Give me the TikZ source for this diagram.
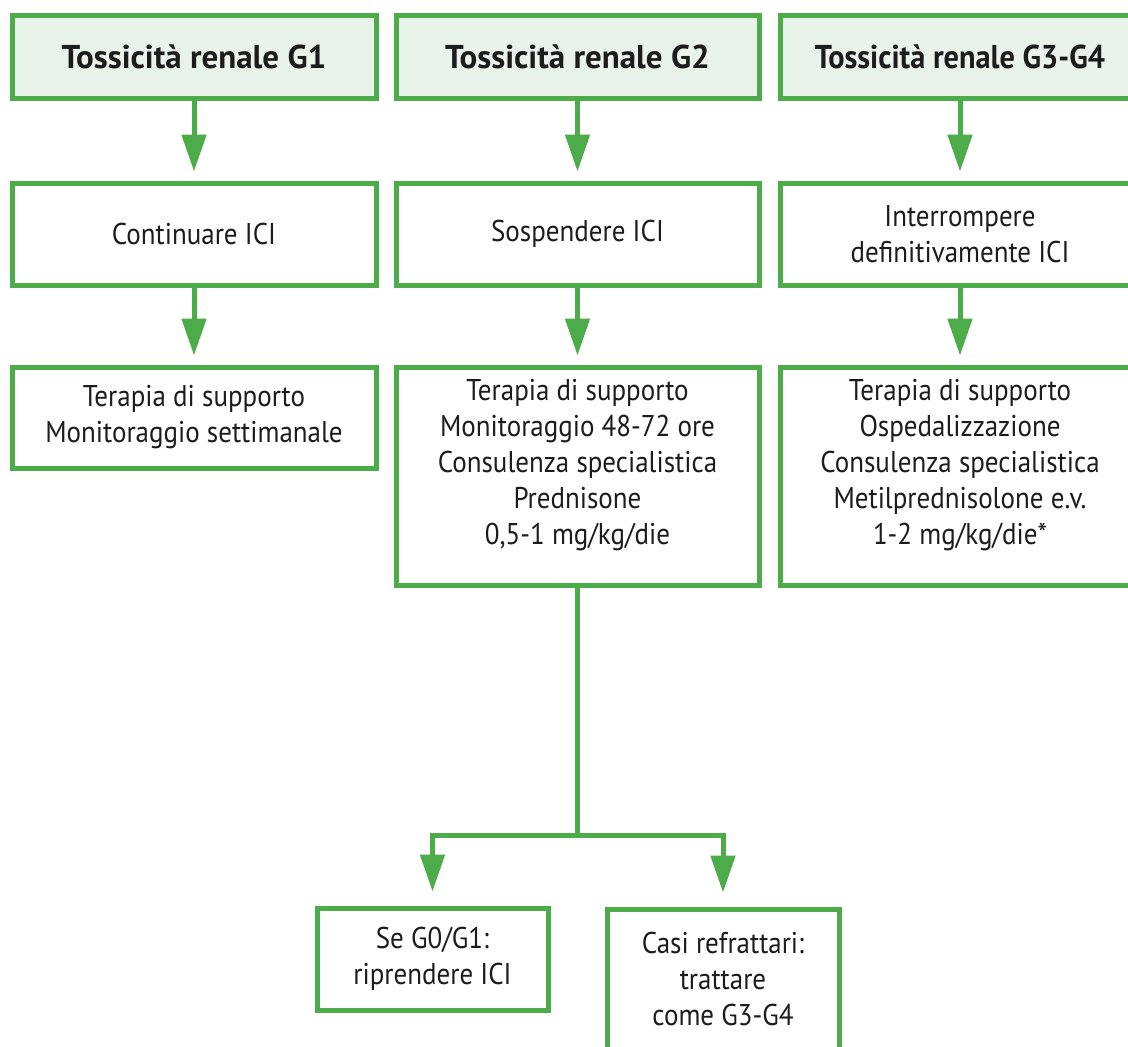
\documentclass[tikz,border=0pt]{standalone}
\usepackage{fontspec}
\setmainfont{PT Sans}[FakeStretch=0.9]
\newfontfamily\headfont{PT Sans}
\usetikzlibrary{arrows.meta}
\definecolor{grn}{RGB}{76,172,74}
\definecolor{hdrfill}{RGB}{234,243,234}
\definecolor{txt}{RGB}{28,28,28}
\begin{document}
\begin{tikzpicture}[x=1pt,y=-1pt,
  box/.style={draw=grn, line width=5pt, fill=white, inner sep=0pt, text=txt,
    align=center, font=\fontsize{30}{36}\selectfont},
  hdr/.style={box, fill=hdrfill, font=\headfont\bfseries\fontsize{33}{38}\selectfont},
  plain/.style={inner sep=0pt, text=txt, align=center, font=\fontsize{30}{36}\selectfont},
  conn/.style={draw=grn, line width=5pt},
  arr/.style={conn, -{Triangle[length=37pt,width=24pt]}, shorten >=9pt}
]
\clip (0,0) rectangle (1128,1047);
\fill[white] (0,0) rectangle (1128,1047);

% header row
\node[hdr, minimum width=364pt, minimum height=83pt] (h1) at (194,56.5) {Tossicità renale G1};
\node[hdr, minimum width=363pt, minimum height=83pt] (h2) at (577.5,56.5) {Tossicità renale G2};
\node[hdr, minimum width=360pt, minimum height=83pt] (h3) at (960,56.5)
  {\addfontfeature{FakeStretch=0.92}Tossicità renale G3-G4};

% decision row
\node[box, minimum width=364pt, minimum height=102pt] (a1) at (194,234) {Continuare ICI};
\node[box, minimum width=363pt, minimum height=102pt] (a2) at (577.5,234) {Sospendere ICI};
\node[box, minimum width=360pt, minimum height=102pt] (a3) at (960,234) {Interrompere\\definitivamente ICI};

% management row
\node[box, minimum width=364pt, minimum height=101pt] (m1) at (194,417.5)
  {Terapia di supporto\\Monitoraggio settimanale};
\node[box, minimum width=363pt, minimum height=218pt] (m2) at (577.5,476) {};
\node[plain] (m2t) at (577.5,465)
  {Terapia di supporto\\Monitoraggio 48-72 ore\\Consulenza specialistica\\Prednisone\\0,5-1 mg/kg/die};
\node[box, minimum width=360pt, minimum height=218pt] (m3) at (960,476) {};
\node[plain] (m3t) at (960,465)
  {Terapia di supporto\\Ospedalizzazione\\Consulenza specialistica\\Metilprednisolone e.v.\\1-2 mg/kg/die*};

% outcome row
\node[box, minimum width=231pt, minimum height=102pt] (o1) at (432.5,959) {Se G0/G1:\\riprendere ICI};
\node[box, minimum width=232pt, minimum height=180pt] (o2) at (723,999) {};
\node[plain] (o2t) at (723,979) {Casi refrattari:\\trattare\\come G3-G4};

% connectors
\draw[arr] (h1) -- (a1);
\draw[arr] (h2) -- (a2);
\draw[arr] (h3) -- (a3);
\draw[arr] (a1) -- (m1);
\draw[arr] (a2) -- (m2);
\draw[arr] (a3) -- (m3);

\coordinate (split) at (577.5,835);
\draw[conn] (m2.south) -- (split);
\draw[arr, shorten >=14pt] (split) -| (o1.north);
\draw[arr, shorten >=14pt] (split) -| (o2.north);
\end{tikzpicture}
\end{document}
